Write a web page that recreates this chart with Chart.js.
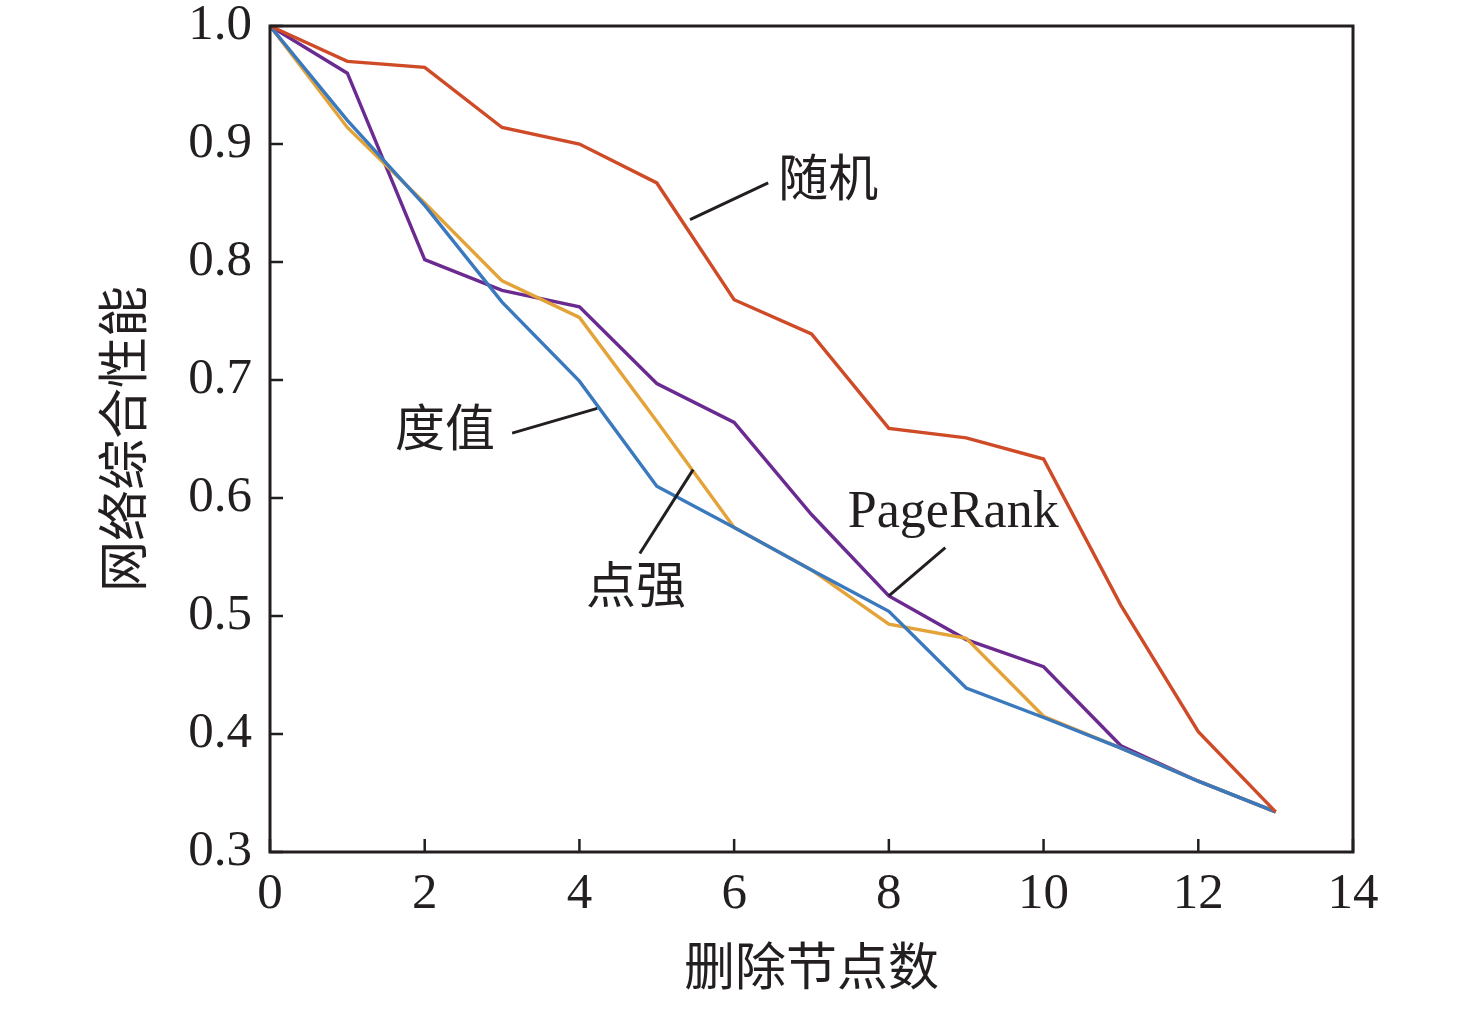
<!DOCTYPE html>
<html>
<head>
<meta charset="utf-8">
<script src="https://cdn.jsdelivr.net/npm/chart.js@4"></script>
<style>
  body { margin: 0; background: #fff; }
  #wrap { width: 1476px; height: 1009px; }
</style>
</head>
<body>
<div id="wrap"><canvas id="lineChart" width="1476" height="1009"></canvas></div>
<script>
// deleted node count 0..13
const removed = [0, 1, 2, 3, 4, 5, 6, 7, 8, 9, 10, 11, 12, 13];
const randomVals = [1.0, 0.970, 0.965, 0.914, 0.900, 0.867, 0.768, 0.739, 0.659, 0.651, 0.633, 0.509, 0.402, 0.334];
const degreeVals = [1.0, 0.920, 0.848, 0.766, 0.699, 0.610, 0.575, 0.539, 0.504, 0.439, 0.414, 0.388, 0.360, 0.334];
const strengthVals = [1.0, 0.914, 0.850, 0.784, 0.753, 0.665, 0.575, 0.539, 0.493, 0.481, 0.415, 0.388, 0.360, 0.334];
const pagerankVals = [1.0, 0.960, 0.802, 0.776, 0.762, 0.697, 0.664, 0.586, 0.517, 0.480, 0.457, 0.390, 0.360, 0.334];
const xTicks = [0, 2, 4, 6, 8, 10, 12, 14];
const yTicks = [0.3, 0.4, 0.5, 0.6, 0.7, 0.8, 0.9, 1.0];

// callout labels, in data units
const callouts = [
    { text: '随机', at: [6.57, 0.867], align: 'left', line: [[5.43, 0.836], [6.44, 0.867]] },
    { text: '度值', at: [2.91, 0.655], align: 'right', line: [[3.13, 0.655], [4.23, 0.676]] },
    { text: '点强', at: [4.73, 0.522], align: 'center', line: [[5.47, 0.624], [4.78, 0.553]] },
    { text: 'PageRank', at: [7.47, 0.587], align: 'left', line: [[8.0, 0.517], [8.73, 0.558]] },
];

const serif = "'Liberation Serif', 'Times New Roman', 'Noto Sans CJK SC', serif";
const ink = '#231f20';

const toPts = (vals) => vals.map((v, i) => ({ x: removed[i], y: v }));

const framePlugin = {
    id: 'frame',
    afterDatasetsDraw(chart) {
        const { ctx, chartArea: a, scales: { x, y } } = chart;
        ctx.save();
        ctx.strokeStyle = ink;
        ctx.lineWidth = 3;
        ctx.strokeRect(a.left, a.top, a.right - a.left, a.bottom - a.top);
        ctx.lineWidth = 2.5;
        ctx.beginPath();
        xTicks.forEach(t => {
            const px = x.getPixelForValue(t);
            ctx.moveTo(px, a.bottom);
            ctx.lineTo(px, a.bottom - 13);
        });
        yTicks.forEach(t => {
            const py = y.getPixelForValue(t);
            ctx.moveTo(a.left, py);
            ctx.lineTo(a.left + 13, py);
        });
        ctx.stroke();

        ctx.fillStyle = ink;
        ctx.textBaseline = 'middle';
        callouts.forEach(c => {
            ctx.lineWidth = 3;
            ctx.beginPath();
            ctx.moveTo(x.getPixelForValue(c.line[0][0]), y.getPixelForValue(c.line[0][1]));
            ctx.lineTo(x.getPixelForValue(c.line[1][0]), y.getPixelForValue(c.line[1][1]));
            ctx.stroke();
            ctx.font = (c.text === 'PageRank' ? '52px ' : '50px ') + serif;
            ctx.textAlign = c.align;
            ctx.fillText(c.text, x.getPixelForValue(c.at[0]), y.getPixelForValue(c.at[1]));
        });
        ctx.restore();
    }
};

const lineStyle = (label, vals, color) => ({
    label: label,
    data: toPts(vals),
    borderColor: color,
    backgroundColor: color,
    borderWidth: 3.4,
    pointRadius: 0,
    tension: 0,
});

new Chart(document.getElementById('lineChart').getContext('2d'), {
    type: 'line',
    data: {
        datasets: [
            lineStyle('随机', randomVals, '#cf4a27'),
            lineStyle('度值', degreeVals, '#3a79bd'),
            lineStyle('点强', strengthVals, '#e3a338'),
            lineStyle('PageRank', pagerankVals, '#6b2a8f'),
        ]
    },
    options: {
        responsive: false,
        animation: false,
        layout: { padding: { left: 0, top: 26, right: 123, bottom: 0 } },
        scales: {
            x: {
                type: 'linear',
                min: 0,
                max: 14,
                afterBuildTicks: (s) => { s.ticks = xTicks.map(v => ({ value: v })); },
                afterFit: (s) => { s.height = 1009 - 852; s.paddingLeft = 0; s.paddingRight = 0; },
                grid: { display: false, drawTicks: false },
                border: { display: false },
                ticks: { color: ink, padding: 12, font: { family: serif, size: 51 } },
                title: {
                    display: true, text: '删除节点数', color: ink,
                    font: { family: serif, size: 51, lineHeight: 1.2 },
                    padding: { top: 0, bottom: 7 }
                }
            },
            y: {
                type: 'linear',
                min: 0.3,
                max: 1.0,
                afterBuildTicks: (s) => { s.ticks = yTicks.map(v => ({ value: v })); },
                afterFit: (s) => { s.width = 270; s.paddingTop = 0; s.paddingBottom = 0; },
                grid: { display: false, drawTicks: false },
                border: { display: false },
                ticks: {
                    color: ink, padding: 18, font: { family: serif, size: 51 },
                    callback: (v) => Number(v).toFixed(1)
                },
                title: {
                    display: true, text: '网络综合性能', color: ink,
                    font: { family: serif, size: 51, lineHeight: 1.2 },
                    padding: { top: 98, bottom: 0 }
                }
            }
        },
        plugins: {
            legend: { display: false },
            tooltip: { enabled: false }
        }
    },
    plugins: [framePlugin]
});
</script>
</body>
</html>
